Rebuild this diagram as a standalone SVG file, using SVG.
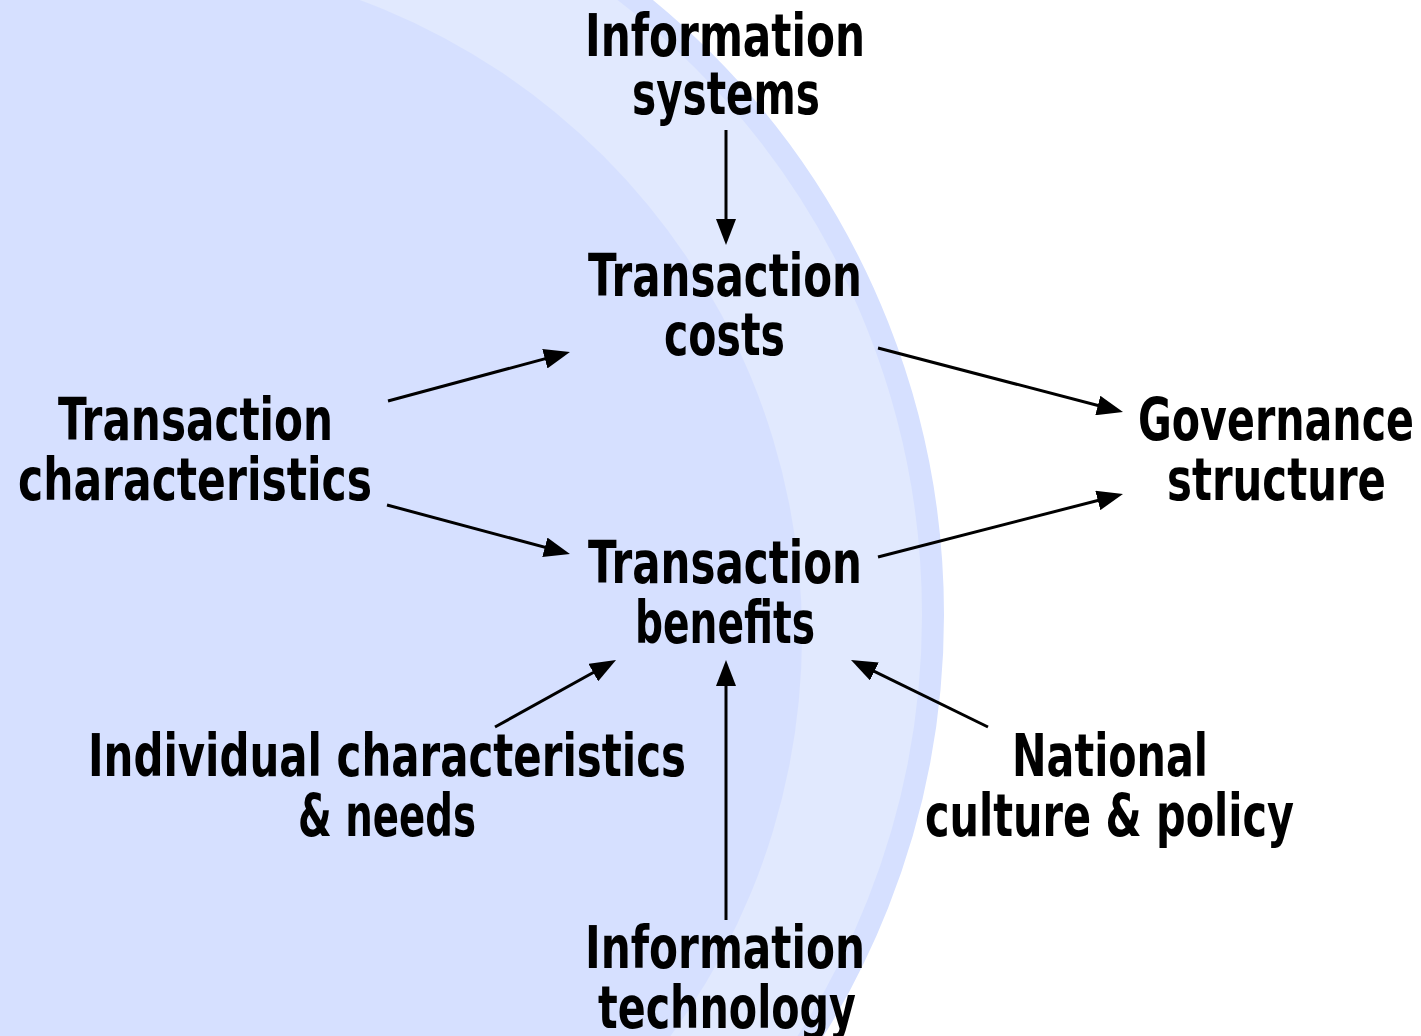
<svg xmlns="http://www.w3.org/2000/svg" width="1421" height="1036" viewBox="0 0 1421 1036">
<style>
.t{font-family:"Liberation Sans Narrow","DejaVu Sans Condensed","Liberation Sans",sans-serif;font-weight:bold;font-size:58px;fill:#000}
.c{stroke:#000;stroke-width:3;fill:none;marker-end:url(#ah)}
</style>
<defs>
<marker id="ah" markerUnits="userSpaceOnUse" markerWidth="26" markerHeight="20" refX="16" refY="10" orient="auto">
<path d="M0,0 L26,10 L0,20 z" fill="#000"/>
</marker>
</defs>
<rect width="1421" height="1036" fill="#fff"/>
<g id="background">
<circle cx="149" cy="615" r="784" fill="#e1e9fe" stroke="#d6e0ff" stroke-width="22"/>
<circle cx="125" cy="635" r="677" fill="#d6e0ff"/>
</g>
<g id="connectors">
<line class="c" x1="726" y1="130" x2="726" y2="235"/>
<line class="c" x1="388" y1="401" x2="560.3" y2="354.6"/>
<line class="c" x1="387" y1="505" x2="560.3" y2="551.4"/>
<line class="c" x1="878" y1="348" x2="1113.3" y2="409.5"/>
<line class="c" x1="878" y1="557" x2="1113.3" y2="496.5"/>
<line class="c" x1="495" y1="727" x2="607.3" y2="664.8"/>
<line class="c" x1="726" y1="920" x2="726" y2="670"/>
<line class="c" x1="988" y1="727" x2="860" y2="664.4"/>
</g>
<g id="information-systems">
<text class="t" x="585" y="56" textLength="280" lengthAdjust="spacingAndGlyphs">Information</text>
<text class="t" x="632" y="114" textLength="188" lengthAdjust="spacingAndGlyphs">systems</text>
</g>
<g id="transaction-costs">
<text class="t" x="588" y="296" textLength="274" lengthAdjust="spacingAndGlyphs">Transaction</text>
<text class="t" x="664" y="355" textLength="121" lengthAdjust="spacingAndGlyphs">costs</text>
</g>
<g id="transaction-characteristics">
<text class="t" x="58" y="440" textLength="275" lengthAdjust="spacingAndGlyphs">Transaction</text>
<text class="t" x="18" y="500" textLength="354" lengthAdjust="spacingAndGlyphs">characteristics</text>
</g>
<g id="governance-structure">
<text class="t" x="1138" y="440" textLength="276" lengthAdjust="spacingAndGlyphs">Governance</text>
<text class="t" x="1167" y="500" textLength="219" lengthAdjust="spacingAndGlyphs">structure</text>
</g>
<g id="transaction-benefits">
<text class="t" x="588" y="583" textLength="274" lengthAdjust="spacingAndGlyphs">Transaction</text>
<text class="t" x="635" y="643" textLength="180" lengthAdjust="spacingAndGlyphs">benefits</text>
</g>
<g id="individual-characteristics">
<text class="t" x="88" y="776" textLength="598" lengthAdjust="spacingAndGlyphs">Individual characteristics</text>
<text class="t" x="298" y="836" textLength="178" lengthAdjust="spacingAndGlyphs">&amp; needs</text>
</g>
<g id="national-culture">
<text class="t" x="1012" y="776" textLength="196" lengthAdjust="spacingAndGlyphs">National</text>
<text class="t" x="925" y="836" textLength="369" lengthAdjust="spacingAndGlyphs">culture &amp; policy</text>
</g>
<g id="information-technology">
<text class="t" x="585" y="968" textLength="280" lengthAdjust="spacingAndGlyphs">Information</text>
<text class="t" x="598" y="1028" textLength="258" lengthAdjust="spacingAndGlyphs">technology</text>
</g>
</svg>
